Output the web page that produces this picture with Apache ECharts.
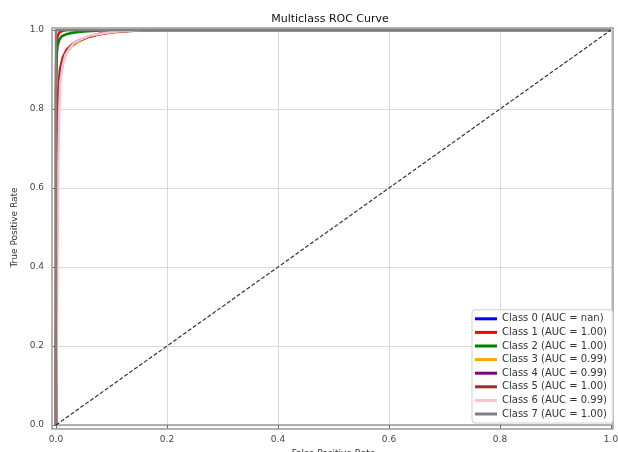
<!DOCTYPE html>
<html>
<head>
<meta charset="utf-8">
<script src="https://cdn.jsdelivr.net/npm/echarts@6/dist/echarts.min.js"></script>
<style>
  html, body { margin: 0; padding: 0; background: #fff; }
  #chart { width: 618px; height: 452px; }
</style>
</head>
<body>
<div id="chart"></div>
<script>
// ROC data (fpr / tpr pairs per class)
const classNames = ['Class 0 (AUC = nan)', 'Class 1 (AUC = 1.00)', 'Class 2 (AUC = 1.00)', 'Class 3 (AUC = 0.99)',
    'Class 4 (AUC = 0.99)', 'Class 5 (AUC = 1.00)', 'Class 6 (AUC = 0.99)', 'Class 7 (AUC = 1.00)']
const classColors = ['#0000ff', '#ff0000', '#008000', '#ffa500', '#800080', '#a52a2a', '#ffc0cb', '#808080']

// class 0 has no positives -> nan, nothing drawn
const fpr0 = []
const tpr0 = []
const fpr1 = [0, 0, 0.001, 0.003, 0.006, 0.012, 0.02, 1]
const tpr1 = [0, 0.9, 0.96, 0.985, 0.994, 0.998, 1, 1]
const fpr2 = [0, 0, 0.0015, 0.003, 0.006, 0.01, 0.02, 0.03, 0.05, 0.08, 0.1, 1]
const tpr2 = [0, 0.85, 0.94, 0.962, 0.975, 0.984, 0.99, 0.993, 0.996, 0.999, 1, 1]
const fpr3 = [0, 0.0005, 0.002, 0.004, 0.007, 0.012, 0.018, 0.027, 0.04, 0.058, 0.08, 0.11, 0.14, 0.17, 1]
const tpr3 = [0, 0.3, 0.65, 0.8, 0.88, 0.915, 0.94, 0.957, 0.97, 0.982, 0.99, 0.995, 0.998, 1, 1]
const fpr4 = [0, 0.0005, 0.002, 0.004, 0.007, 0.012, 0.018, 0.027, 0.04, 0.058, 0.08, 0.11, 0.14, 0.17, 1]
const tpr4 = [0, 0.32, 0.67, 0.81, 0.885, 0.92, 0.943, 0.96, 0.972, 0.983, 0.991, 0.996, 0.998, 1, 1]
const fpr5 = [0, 0, 0.001, 0.002, 0.004, 0.007, 0.012, 0.019, 0.03, 0.043, 0.06, 0.075, 0.1, 0.13, 0.16, 1]
const tpr5 = [0, 0.3, 0.6, 0.75, 0.84, 0.9, 0.93, 0.95, 0.965, 0.975, 0.983, 0.988, 0.994, 0.998, 1, 1]
const fpr6 = [0, 0.002, 0.004, 0.006, 0.008, 0.012, 0.017, 0.024, 0.032, 0.046, 0.062, 0.086, 0.11, 0.14, 0.17, 1]
const tpr6 = [0, 0.3, 0.65, 0.8, 0.87, 0.91, 0.937, 0.953, 0.966, 0.977, 0.986, 0.992, 0.996, 0.999, 1, 1]
const fpr7 = [0, 0, 1]
const tpr7 = [0, 1, 1]

const fprs = [fpr0, fpr1, fpr2, fpr3, fpr4, fpr5, fpr6, fpr7]
const tprs = [tpr0, tpr1, tpr2, tpr3, tpr4, tpr5, tpr6, tpr7]

const diagX = [0, 1]
const diagY = [0, 1]

const font = 'DejaVu Sans'
const chart = echarts.init(document.getElementById('chart'))

let series = classNames.map((name, i) => ({
    name: name,
    type: 'line',
    showSymbol: false,
    symbol: 'none',
    color: classColors[i],
    lineStyle: { width: 2.5, color: classColors[i] },
    data: fprs[i].map((x, j) => [x, tprs[i][j]]),
    z: 2 + i * 0.01
}))

series.push({
    name: 'diag',
    type: 'line',
    symbol: 'none',
    lineStyle: { width: 1.2, color: '#333', type: [4, 2] },
    data: diagX.map((x, j) => [x, diagY[j]]),
    z: 3
})

const axisCommon = {
    type: 'value',
    min: 0,
    max: 1,
    interval: 0.2,
    offset: 4,
    nameLocation: 'middle',
    nameTextStyle: { fontFamily: font, fontSize: 9, color: '#333' },
    axisLine: { show: true, lineStyle: { color: '#9a9a9a', width: 1.5 } },
    axisTick: { show: true, inside: false, length: 3.5, lineStyle: { color: '#666', width: 1 } },
    splitLine: { show: true, lineStyle: { color: '#d9d9d9', width: 1 } }
}

let option = {
    animation: false,
    backgroundColor: '#fff',
    title: {
        text: 'Multiclass ROC Curve',
        left: 325,
        textAlign: 'center',
        top: 9,
        textStyle: { fontFamily: font, fontSize: 11, fontWeight: 'normal', color: '#111' }
    },
    grid: { left: 56, right: 7, top: 30, bottom: 27, containLabel: false, outerBoundsMode: 'none' },
    xAxis: Object.assign({}, axisCommon, {
        name: 'False Positive Rate',
        nameGap: 20,
        axisLabel: { fontFamily: font, fontSize: 9, color: '#444', margin: 6, formatter: v => v.toFixed(1) }
    }),
    yAxis: Object.assign({}, axisCommon, {
        name: 'True Positive Rate',
        nameGap: 33,
        nameRotate: 90,
        axisLabel: { fontFamily: font, fontSize: 9, color: '#444', margin: 8, formatter: v => v.toFixed(1) }
    }),
    legend: {
        data: classNames,
        orient: 'vertical',
        right: 5,
        bottom: 29,
        icon: 'rect',
        itemWidth: 22,
        itemHeight: 3,
        itemGap: 1.6,
        padding: [3, 6, 3, 3],
        backgroundColor: 'rgba(255,255,255,0.85)',
        borderColor: '#d0d0d0',
        borderWidth: 1,
        borderRadius: 3,
        selectedMode: false,
        textStyle: { fontFamily: font, fontSize: 10, color: '#333', lineHeight: 12 },
        z: 10
    },
    graphic: [{
        type: 'rect',
        shape: { x: 52, y: 28, width: 561, height: 401 },
        style: { fill: 'none', stroke: '#9a9a9a', lineWidth: 1.5 },
        z: 5,
        silent: true
    }],
    series: series
}

chart.setOption(option)
</script>
</body>
</html>
